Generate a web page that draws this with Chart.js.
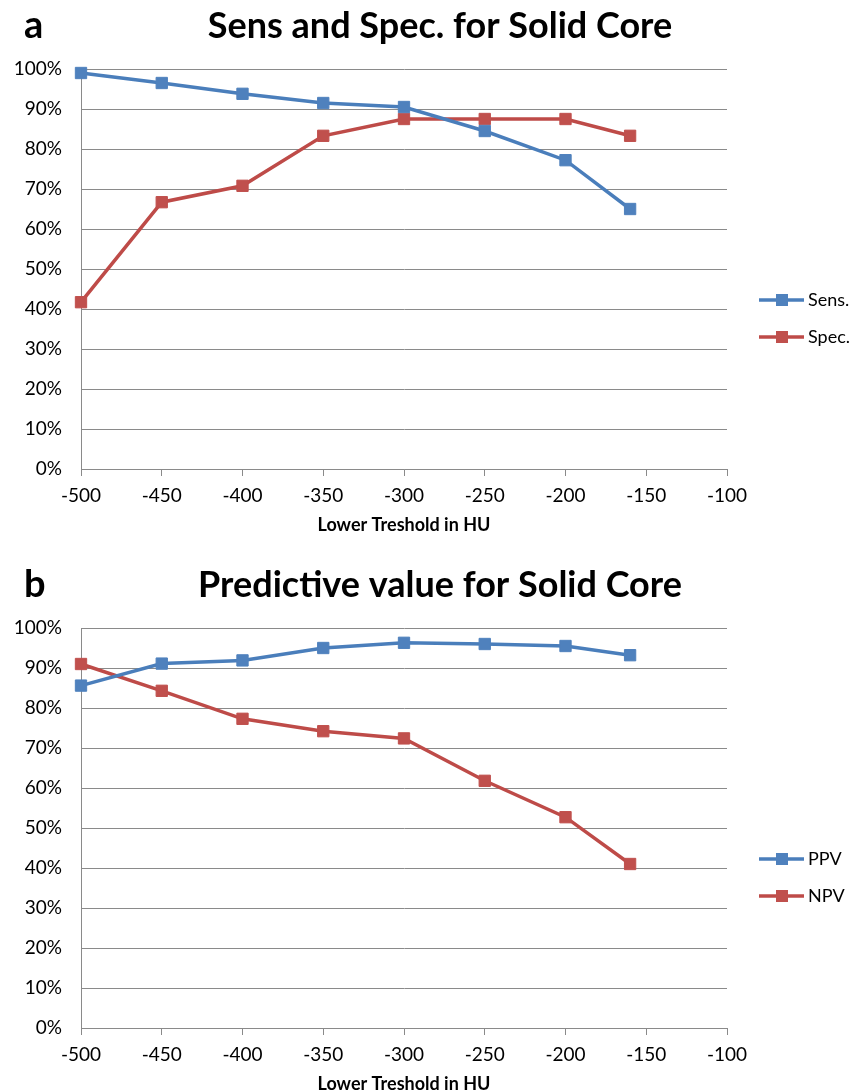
<!DOCTYPE html>
<html>
<head>
<meta charset="utf-8">
<script src="https://cdn.jsdelivr.net/npm/chart.js@4.4.1/dist/chart.umd.min.js"></script>
<style>
  html, body { margin: 0; padding: 0; background: #fff; overflow: hidden; }
  .panel { width: 862px; height: 559px; }
  canvas { display: block; }
</style>
</head>
<body>
<div class="panel"><canvas id="chart-a" width="862" height="559"></canvas></div>
<div class="panel"><canvas id="chart-b" width="862" height="559"></canvas></div>
<script>
/* ─── Data ───────────────────── */
const thresholds = [-500, -450, -400, -350, -300, -250, -200, -160];
const sens = [99.0, 96.5, 93.8, 91.5, 90.5, 84.5, 77.2, 65.0];
const spec = [41.7, 66.7, 70.8, 83.3, 87.5, 87.5, 87.5, 83.3];
const ppv  = [85.6, 91.1, 91.9, 95.0, 96.3, 96.0, 95.5, 93.2];
const npv  = [91.0, 84.3, 77.3, 74.2, 72.4, 61.8, 52.7, 41.0];

const xTickValues = [-500, -450, -400, -350, -300, -250, -200, -150, -100];
const yTickValues = [0, 10, 20, 30, 40, 50, 60, 70, 80, 90, 100];

const BLUE = '#4A7EBB', BLUE_FILL = '#4F81BD';
const RED = '#BE4B48', RED_FILL = '#C0504D';
const GRID = '#8A8A8A';

/* ─── Panel letter, title and legend ───────────────────── */
const panelDecor = {
  id: 'panelDecor',
  afterDraw(chart, args, opts) {
    const { ctx, chartArea } = chart;
    ctx.save();
    ctx.fillStyle = '#000';
    ctx.textBaseline = 'alphabetic';

    ctx.textAlign = 'left';
    ctx.font = "bold 38px Lato";
    ctx.fillText(opts.letter, 24, 38);

    ctx.textAlign = 'center';
    ctx.font = "bold 36px Lato";
    ctx.fillText(opts.title, 440, 38);

    // legend, right of the plot
    const midY = (chartArea.top + chartArea.bottom) / 2;
    const x0 = chartArea.right + 32;
    chart.data.datasets.forEach((ds, i) => {
      const y = midY + 31 + i * 37;
      ctx.strokeStyle = ds.borderColor;
      ctx.lineWidth = 3.5;
      ctx.beginPath();
      ctx.moveTo(x0, y);
      ctx.lineTo(x0 + 45, y);
      ctx.stroke();
      ctx.fillStyle = ds.pointBackgroundColor;
      ctx.fillRect(x0 + 17, y - 6, 12, 12);
      ctx.fillStyle = '#000';
      ctx.textAlign = 'left';
      ctx.textBaseline = 'middle';
      ctx.font = "18px Lato";
      ctx.fillText(ds.label, x0 + 49, y);
    });
    ctx.restore();
  }
};

const series = (label, data, line, fill) => ({
  label,
  data: thresholds.map((x, i) => ({ x, y: data[i] })),
  borderColor: line,
  backgroundColor: fill,
  pointBackgroundColor: fill,
  pointBorderColor: fill,
  borderWidth: 3.5,
  pointStyle: 'rect',
  pointRadius: 8,
  pointHoverRadius: 8,
  pointBorderWidth: 1,
  tension: 0,
  fill: false,
  clip: false
});

function makeChart(id, letter, title, a, b) {
  return new Chart(document.getElementById(id), {
    type: 'line',
    data: { datasets: [a, b] },
    options: {
      responsive: false,
      animation: false,
      layout: { padding: { top: 69, right: 135, bottom: 0, left: 0 } },
      plugins: {
        legend: { display: false },
        tooltip: { enabled: false },
        panelDecor: { letter, title }
      },
      scales: {
        x: {
          type: 'linear',
          min: -500,
          max: -100,
          afterBuildTicks: s => { s.ticks = xTickValues.map(value => ({ value })); },
          afterFit: s => { s.height = 90; },
          grid: { drawOnChartArea: false, color: GRID, tickLength: 7 },
          border: { color: GRID },
          ticks: { color: '#000', padding: 8, font: { family: 'Lato', size: 19 } },
          title: {
            display: true,
            text: 'Lower Treshold in HU',
            color: '#000',
            padding: { top: 0, bottom: 23 },
            font: { family: 'Lato', size: 18, weight: 'bold' }
          }
        },
        y: {
          min: 0,
          max: 100,
          afterBuildTicks: s => { s.ticks = yTickValues.map(value => ({ value })); },
          afterFit: s => { s.width = 81; },
          grid: { color: GRID, drawTicks: false },
          border: { color: GRID },
          ticks: {
            color: '#000',
            padding: 19,
            font: { family: 'Lato', size: 19 },
            callback: v => v + '%'
          }
        }
      }
    },
    plugins: [panelDecor]
  });
}

makeChart('chart-a', 'a', 'Sens and Spec. for Solid Core',
  series('Sens.', sens, BLUE, BLUE_FILL),
  series('Spec.', spec, RED, RED_FILL));

makeChart('chart-b', 'b', 'Predictive value for Solid Core',
  series('PPV', ppv, BLUE, BLUE_FILL),
  series('NPV', npv, RED, RED_FILL));
</script>
</body>
</html>
